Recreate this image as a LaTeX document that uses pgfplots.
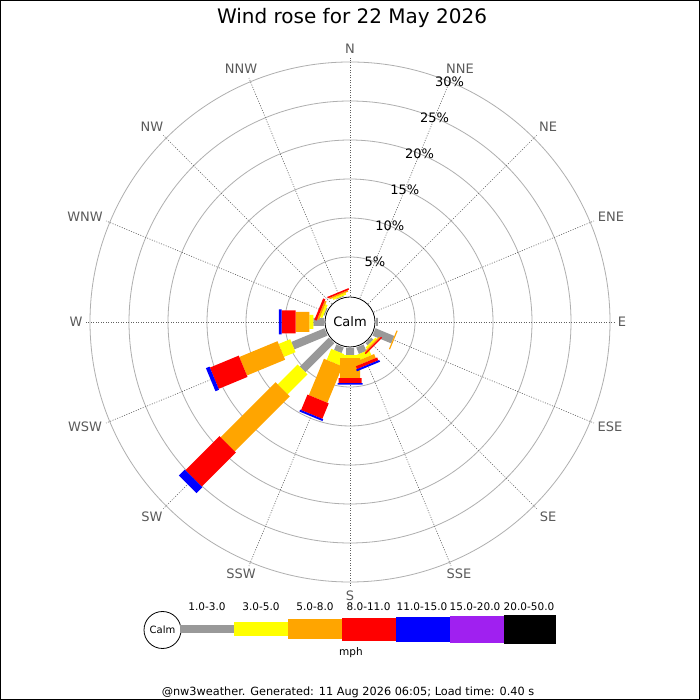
\documentclass[border=0pt]{standalone}
\usepackage{fontspec}
\setmainfont{DejaVu Sans}
\usepackage{pgfplots}
\pgfplotsset{compat=1.18}
\definecolor{cgray}{RGB}{153,153,153}
\definecolor{cyellow}{RGB}{255,255,0}
\definecolor{corange}{RGB}{255,165,0}
\definecolor{cred}{RGB}{255,0,0}
\definecolor{cblue}{RGB}{0,0,255}
\definecolor{cpurple}{RGB}{160,32,240}
\definecolor{ringc}{RGB}{175,175,175}
\definecolor{spokec}{RGB}{95,95,95}
\definecolor{labc}{RGB}{90,90,90}
\begin{document}
\begin{tikzpicture}
\useasboundingbox (0,0) rectangle (700pt,700pt);
\fill[white] (0,0) rectangle (700pt,700pt);
\begin{scope}[x=1pt,y=-1pt,shift={(0pt,700pt)}]
  \foreach \k in {1,...,6}
    \draw[ringc, line width=0.8pt] (350,322) circle[radius={26pt+39pt*\k}];
  \foreach \b in {0,22.5,...,337.5}
    \draw[spokec, line width=0.6pt, dash pattern=on 1pt off 1.5pt]
      ({350+26*sin(\b)},{322-26*cos(\b)}) -- ({350+264*sin(\b)},{322-264*cos(\b)});
\end{scope}
\begin{axis}[at={(350pt,378pt)}, anchor=origin, x=7.8pt, y=7.8pt,
  xmin=-40, xmax=40, ymin=-40, ymax=40, hide axis, clip=false,
  disabledatascaling, unbounded coords=jump]
% gray 1.0-3.0
\addplot[draw=cgray, line width=8pt] table[x expr={(\thisrow{r}+3.3333)*sin(\thisrow{a})}, y expr={(\thisrow{r}+3.3333)*cos(\thisrow{a})}] {
a r
337.5 0
337.5 0.1
337.5 nan
292.5 0
292.5 0.15
292.5 nan
270 0
270 1.37
270 nan
247.5 0
247.5 4.6
247.5 nan
225 0
225 5.26
225 nan
202.5 0
202.5 0.77
202.5 nan
180 0
180 0.9
180 nan
157.5 0
157.5 0.9
157.5 nan
135 0
135 0.4
135 nan
112.5 0
112.5 2.6
112.5 nan
90 0
90 0.25
};
% yellow 3.0-5.0
\addplot[draw=cyellow, line width=14pt] table[x expr={(\thisrow{r}+3.3333)*sin(\thisrow{a})}, y expr={(\thisrow{r}+3.3333)*cos(\thisrow{a})}] {
a r
337.5 0.1
337.5 0.35
337.5 nan
292.5 0.15
292.5 0.45
292.5 nan
270 1.37
270 1.88
270 nan
247.5 4.6
247.5 6.2
247.5 nan
225 5.26
225 8.87
225 nan
202.5 0.77
202.5 2.3
202.5 nan
180 0.9
180 1.3
180 nan
157.5 0.9
157.5 1.65
157.5 nan
135 0.4
135 0.65
};
% orange 5.0-8.0
\addplot[draw=corange, line width=20pt] table[x expr={(\thisrow{r}+3.3333)*sin(\thisrow{a})}, y expr={(\thisrow{r}+3.3333)*cos(\thisrow{a})}] {
a r
337.5 0.35
337.5 0.55
337.5 nan
292.5 0.45
292.5 0.7
292.5 nan
270 1.88
270 3.63
270 nan
247.5 6.2
247.5 11.5
247.5 nan
225 8.87
225 18.85
225 nan
202.5 2.3
202.5 7.35
202.5 nan
180 1.3
180 3.85
180 nan
157.5 1.65
157.5 2.2
157.5 nan
135 0.65
135 0.83
135 nan
112.5 2.6
112.5 2.75
};
% red 8.0-11.0
\addplot[draw=cred, line width=23pt] table[x expr={(\thisrow{r}+3.3333)*sin(\thisrow{a})}, y expr={(\thisrow{r}+3.3333)*cos(\thisrow{a})}] {
a r
337.5 0.55
337.5 0.75
337.5 nan
292.5 0.7
292.5 1.0
292.5 nan
270 3.63
270 5.42
270 nan
247.5 11.5
247.5 15.5
247.5 nan
225 18.85
225 25.04
225 nan
202.5 7.35
202.5 9.5
202.5 nan
180 3.85
180 4.5
180 nan
157.5 2.2
157.5 2.6
157.5 nan
135 0.83
135 1.0
};
% blue 11.0-15.0
\addplot[draw=cblue, line width=25pt] table[x expr={(\thisrow{r}+3.3333)*sin(\thisrow{a})}, y expr={(\thisrow{r}+3.3333)*cos(\thisrow{a})}] {
a r
270 5.42
270 5.77
270 nan
247.5 15.5
247.5 16.0
247.5 nan
225 25.04
225 26.1
225 nan
202.5 9.5
202.5 9.75
202.5 nan
180 4.5
180 4.7
180 nan
157.5 2.6
157.5 2.85
};
\end{axis}
\begin{scope}[x=1pt,y=-1pt,shift={(0pt,700pt)}]
  % calm circle
  \draw[black, line width=0.8pt, fill=white] (350,322) circle[radius=25pt];
  \node at (350,322) {\fontsize{13}{15}\selectfont Calm};
  % direction labels
  \foreach \x/\y/\t in {350/49/N,460/69/NNE,548/127/NE,611/217/ENE,622/322/E,610/427/ESE,548/517/SE,459/574/SSE,350/596/S,241/574/SSW,152/517/SW,85/427/WSW,76/322/W,85/217/WNW,152/127/NW,241/69/NNW}
    \node[labc] at (\x,\y) {\fontsize{13}{15}\selectfont \t};
  % ring labels
  \foreach \k/\t in {1/5\%,2/10\%,3/15\%,4/20\%,5/25\%,6/30\%}
    \node[black] at ({350+(26+39*\k)*sin(22.5)},{322-(26+39*\k)*cos(22.5)}) {\fontsize{13}{15}\selectfont \t};
  % title
  \node at (352,18) {\fontsize{20}{23}\selectfont Wind rose for 22 May 2026};
  % legend
  \draw[black, line width=0.8pt, fill=white] (162.5,630) circle[radius=18.5pt];
  \node at (162.5,630) {\fontsize{10}{12}\selectfont Calm};
  \fill[cgray] (180,625) rectangle (234,633.5);
  \fill[cyellow] (234,622.5) rectangle (288,636);
  \fill[corange] (288,619.5) rectangle (342,639.5);
  \fill[cred] (342,618) rectangle (396,641);
  \fill[cblue] (396,617) rectangle (450,642);
  \fill[cpurple] (450,616) rectangle (504,643);
  \fill[black] (504,615) rectangle (556,644);
  \foreach \x/\t in {207/1.0-3.0,261/3.0-5.0,315/5.0-8.0,368.5/8.0-11.0,422/11.0-15.0,475/15.0-20.0,529/20.0-50.0}
    \node at (\x,607) {\fontsize{10.5}{12}\selectfont \t};
  \node at (351,653) {\fontsize{10.5}{12}\selectfont mph};
  % footer
  \node at (348,692) {\fontsize{11.3}{13}\selectfont @nw3weather. Generated: 11 Aug 2026 06:05; Load time: 0.40 s};
  % frame
  \draw[black, line width=1pt] (0.5,0.5) rectangle (699.5,699.5);
\end{scope}
\end{tikzpicture}
\end{document}
